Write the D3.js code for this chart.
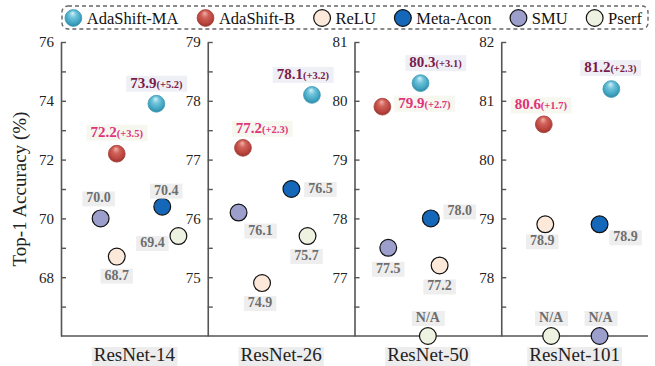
<!DOCTYPE html>
<html>
<head>
<meta charset="utf-8">
<script src="https://cdn.jsdelivr.net/npm/d3@7"></script>
<style>
  body { margin: 0; background: #fff; }
  text { font-family: "Liberation Serif", "Times New Roman", serif; }
</style>
</head>
<body>
<script>
// data
const models = ["ResNet-14", "ResNet-26", "ResNet-50", "ResNet-101"];
const methods = ["AdaShift-MA", "AdaShift-B", "ReLU", "Meta-Acon", "SMU", "Pserf"];
const adaMA    = [73.9, 78.1, 80.3, 81.2];
const adaB     = [72.2, 77.2, 79.9, 80.6];
const relu     = [68.7, 74.9, 77.2, 78.9];
const metaAcon = [70.4, 76.5, 78.0, 78.9];
const smu      = [70.0, 76.1, 77.5, null];
const pserf    = [69.4, 75.7, null, null];
const gainMA = ["+5.2", "+3.2", "+3.1", "+2.3"];
const gainB  = ["+3.5", "+2.3", "+2.7", "+1.7"];
const yDomains = [[66, 76], [74, 79], [76, 81], [77, 82]];
const majorTicks = [[68, 70, 72, 74, 76], [75, 76, 77, 78, 79], [77, 78, 79, 80, 81], [78, 79, 80, 81, 82]];

const seriesValues = [adaMA, adaB, relu, metaAcon, smu, pserf];

// layout only: horizontal slot of each marker inside its panel (0..1), label offsets
const slot = {
  "AdaShift-MA": [0.65, 0.71, 0.45, 0.75],
  "AdaShift-B":  [0.38, 0.24, 0.19, 0.29],
  "ReLU":        [0.38, 0.37, 0.58, 0.30],
  "Meta-Acon":   [0.69, 0.57, 0.52, 0.67],
  "SMU":         [0.27, 0.21, 0.23, 0.67],
  "Pserf":       [0.80, 0.68, 0.50, 0.34]
};
const labelOff = {
  "AdaShift-MA": [[0, -16], [-9, -16], [15, -16], [-1, -17]],
  "AdaShift-B":  [[0, -17], [19, -15], [42, 1], [-3, -15]],
  "ReLU":        [[0, 23], [-2, 24], [0, 25], [-3, 21]],
  "Meta-Acon":   [[4, -12], [29, 4], [29, -3], [26, 17]],
  "SMU":         [[-2, -16], [22, 22], [0, 25], [1, -14]],
  "Pserf":       [[-26, 11], [-1, 24], [0, -14], [0, -14]]
};

const style = {
  "AdaShift-MA": { fill: "url(#gMA)", stroke: "#3f9bb6", sw: 0.8 },
  "AdaShift-B":  { fill: "url(#gB)",  stroke: "#a7403a", sw: 0.8 },
  "ReLU":        { fill: "#fde9da", stroke: "#111", sw: 1.2 },
  "Meta-Acon":   { fill: "#1467b9", stroke: "#111", sw: 1.2 },
  "SMU":         { fill: "#9c9ecb", stroke: "#111", sw: 1.2 },
  "Pserf":       { fill: "#eef3e1", stroke: "#111", sw: 1.2 }
};

const W = 655, H = 366, R = 8.4;
const svg = d3.select("body").append("svg").attr("width", W).attr("height", H);

const defs = svg.append("defs");
function sphere(id, stops) {
  const rg = defs.append("radialGradient").attr("id", id)
    .attr("cx", "50%").attr("cy", "45%").attr("r", "60%")
    .attr("fx", "45%").attr("fy", "20%");
  stops.forEach(([o, c]) => rg.append("stop").attr("offset", o).attr("stop-color", c));
}
sphere("gMA", [["0%", "#d4f0f7"], ["35%", "#6fc3db"], ["75%", "#3fa3c0"], ["100%", "#2a7d97"]]);
sphere("gB",  [["0%", "#f2b2aa"], ["35%", "#d0625a"], ["75%", "#b8433c"], ["100%", "#8d2b26"]]);

const x = d3.scaleBand().domain(models).range([61, 648]);
const yTop = 42, yBot = 336;

// y label
svg.append("text")
  .attr("transform", `translate(26,${(yTop + yBot) / 2}) rotate(-90)`)
  .attr("text-anchor", "middle")
  .attr("font-size", 19).attr("fill", "#222")
  .text("Top-1 Accuracy (%)");

const points = [];
models.forEach((m, i) => {
  methods.forEach((k, j) => {
    const v = seriesValues[j][i];
    let txt = v == null ? "N/A" : v.toFixed(1);
    let gain = null;
    if (k === "AdaShift-MA") gain = gainMA[i];
    if (k === "AdaShift-B") gain = gainB[i];
    points.push({ model: m, panel: i, method: k, value: v, txt, gain });
  });
});

models.forEach((m, i) => {
  const g = svg.append("g").attr("transform", `translate(${x(m)},0)`);
  const y = d3.scaleLinear().domain(yDomains[i]).range([yBot, yTop]);
  const step = majorTicks[i][1] - majorTicks[i][0];
  const minor = d3.range(yDomains[i][0] + step / 2, yDomains[i][1], step);

  const ax = g.append("g")
    .call(d3.axisLeft(y).tickValues(majorTicks[i]).tickSizeInner(-5).tickSizeOuter(0)
      .tickPadding(7).tickFormat(d3.format("d")));
  ax.select(".domain").attr("stroke", "#555").attr("stroke-width", 1.6);
  ax.selectAll(".tick line").attr("stroke", "#555").attr("stroke-width", 1.4);
  ax.selectAll(".tick text").attr("font-size", 15).attr("fill", "#222")
    .style("font-family", '"Liberation Serif", serif');

  const mx = g.append("g")
    .call(d3.axisLeft(y).tickValues(minor).tickSizeInner(-5).tickSizeOuter(0).tickFormat(""));
  mx.select(".domain").remove();
  mx.selectAll(".tick line").attr("stroke", "#555").attr("stroke-width", 1.4);

  // category label
  const cl = g.append("g");
  const ct = cl.append("text")
    .attr("x", x.bandwidth() / 2).attr("y", 361)
    .attr("text-anchor", "middle").attr("font-size", 19).attr("fill", "#222")
    .text(m);
  const cb = ct.node().getBBox();
  cl.insert("rect", "text")
    .attr("x", cb.x - 2).attr("y", 347).attr("width", cb.width + 4).attr("height", 20)
    .attr("fill", "#ededed");
});

// bottom line
svg.append("line")
  .attr("x1", x.range()[0]).attr("x2", x.range()[1])
  .attr("y1", yBot).attr("y2", yBot)
  .attr("stroke", "#555").attr("stroke-width", 1.6);

// markers
const px = d => x(d.model) + slot[d.method][d.panel] * x.bandwidth();
const py = d => {
  const y = d3.scaleLinear().domain(yDomains[d.panel]).range([yBot, yTop]);
  return d.value == null ? y(yDomains[d.panel][0]) : y(d.value);
};

svg.append("g").selectAll("circle")
  .data(points).join("circle")
  .attr("cx", px).attr("cy", py).attr("r", R)
  .attr("fill", d => style[d.method].fill)
  .attr("stroke", d => style[d.method].stroke)
  .attr("stroke-width", d => style[d.method].sw);

// value labels
const lab = svg.append("g").selectAll("g")
  .data(points).join("g")
  .attr("transform", d => {
    const o = labelOff[d.method][d.panel];
    return `translate(${px(d) + o[0]},${py(d) + o[1]})`;
  });

lab.each(function (d) {
  const gg = d3.select(this);
  const t = gg.append("text").attr("text-anchor", "middle").attr("font-weight", "bold");
  let bg = "#eeeeee";
  if (d.gain) {
    const col = d.method === "AdaShift-MA" ? "#7a1c4b" : "#e0337a";
    bg = d.method === "AdaShift-MA" ? "#efeff6" : "#f6f7ef";
    t.attr("fill", col);
    t.append("tspan").attr("font-size", 15).text(d.txt);
    t.append("tspan").attr("font-size", 10.5).text(`(${d.gain})`);
  } else {
    t.attr("fill", "#6e6e6e").attr("font-size", 14).text(d.txt);
  }
  const b = t.node().getBBox();
  gg.insert("rect", "text")
    .attr("x", b.x - 4).attr("y", b.y + 1).attr("width", b.width + 8).attr("height", b.height)
    .attr("fill", bg);
});

// legend
const leg = svg.append("g");
const lx0 = 62, lx1 = 648, ly0 = 6, ly1 = 29, lyc = 18;
leg.append("rect")
  .attr("x", lx0).attr("y", ly0).attr("width", lx1 - lx0).attr("height", ly1 - ly0)
  .attr("rx", 6).attr("fill", "none")
  .attr("stroke", "#666").attr("stroke-width", 1.4).attr("stroke-dasharray", "4,3");

const items = leg.selectAll("g").data(methods).join("g");
items.append("circle").attr("r", R).attr("cy", lyc)
  .attr("fill", d => style[d].fill).attr("stroke", d => style[d].stroke)
  .attr("stroke-width", d => style[d].sw);
items.append("text").attr("x", R + 5).attr("y", lyc + 5.5)
  .attr("font-size", 16.5).attr("fill", "#111").text(d => d);

const widths = [];
items.select("text").each(function () { widths.push(this.getComputedTextLength() + R * 2 + 5); });
const padL = 3, padR = 6;
const gap = ((lx1 - lx0) - padL - padR - d3.sum(widths)) / (methods.length - 1);
let cur = lx0 + padL;
items.attr("transform", (d, i) => {
  const tx = cur + R;
  cur += widths[i] + gap;
  return `translate(${tx},0)`;
});
</script>
</body>
</html>
